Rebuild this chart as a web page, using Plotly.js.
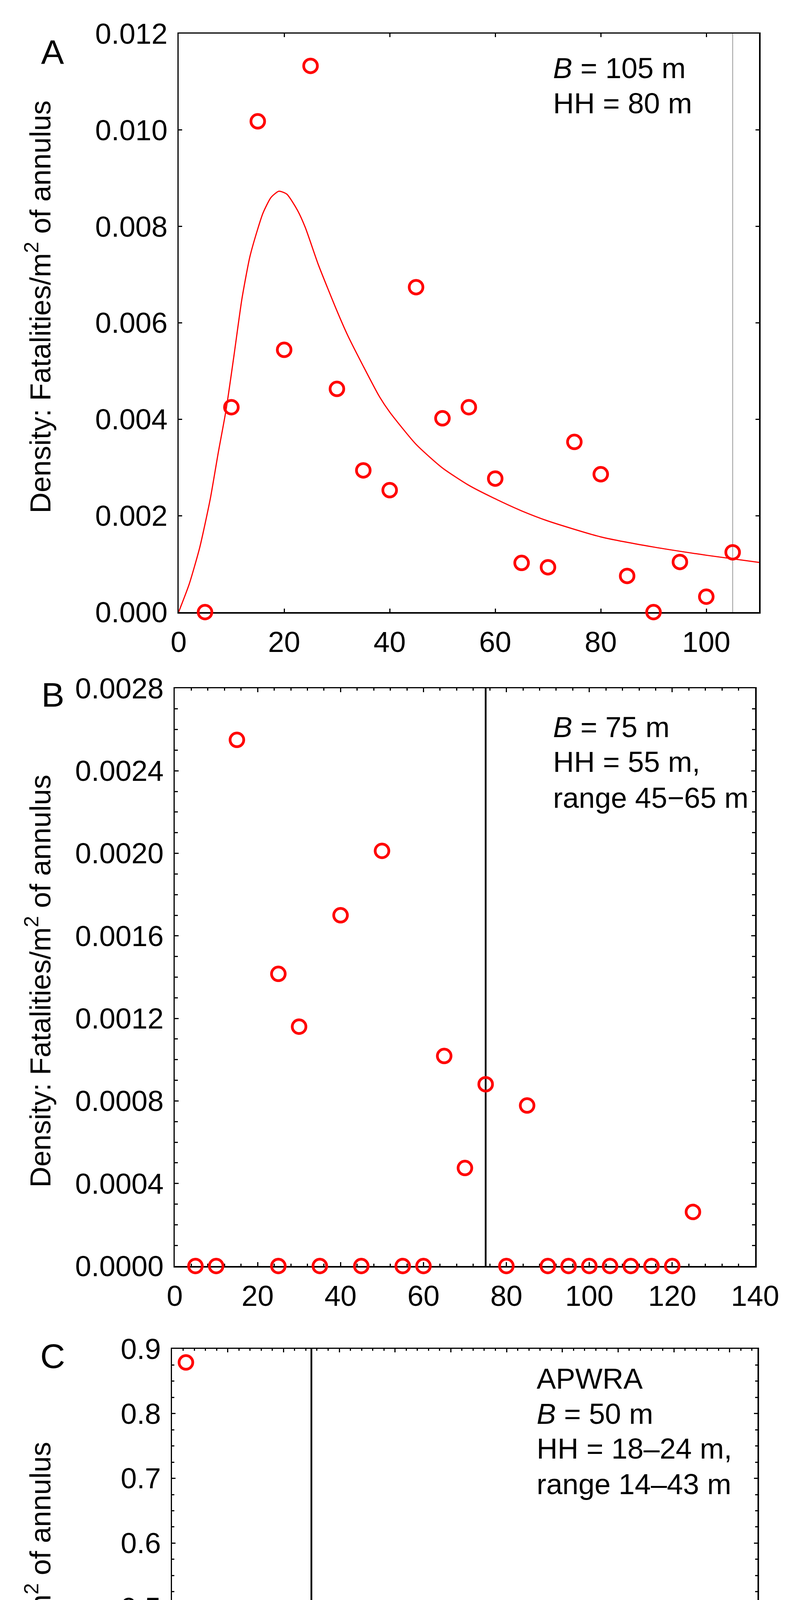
<!DOCTYPE html>
<html>
<head>
<meta charset="utf-8">
<script src="https://cdn.plot.ly/plotly-3.0.1.min.js"></script>
<style>html,body{margin:0;padding:0;background:#fff;}#chart{width:2057px;height:5204px;}</style>
</head>
<body>
<div id="chart"></div>
<script>
// ---------- DATA ----------
// Panel A
const xA = [5, 10, 15, 20, 25, 30, 35, 40, 45, 50, 55, 60, 65, 70, 75, 80, 85, 90, 95, 100, 105];
const yA = [0.0000, 0.00425, 0.01018, 0.00544, 0.01133, 0.00463, 0.00294, 0.00253, 0.00674, 0.00402, 0.00425,
            0.00277, 0.00102, 0.00093, 0.00353, 0.00286, 0.00075, 0.0000, 0.00104, 0.00032, 0.00124];
const curveX = [0, 2, 4, 6, 7.5, 9, 10.5, 12, 13.5, 15, 16, 17.5, 19, 20.5, 22.5, 24, 26.5, 30, 32, 35, 38, 40,
                45, 50, 55, 60, 65, 70, 80, 90, 100, 110];
const curveY = [0, 0.00058, 0.00134, 0.00235, 0.0033, 0.0042, 0.00533, 0.0065, 0.00737, 0.00795, 0.00828, 0.0086,
                0.00873, 0.00867, 0.00834, 0.00798, 0.0072, 0.00625, 0.00575, 0.0051, 0.00448, 0.00415,
                0.00348, 0.00299, 0.00263, 0.00235, 0.0021, 0.00189, 0.00156, 0.00135, 0.00118, 0.00103];
const lineA = 105;
const textA = ["<i>B</i> = 105 m", "HH = 80 m"];

// Panel B
const xB = [5, 10, 15, 25, 25, 30, 35, 40, 45, 50, 55, 60, 65, 70, 75, 80, 85, 90, 95, 100, 105, 110, 115, 120, 125];
const yB = [0, 0, 0.00255, 0.001416, 0, 0.00116, 0, 0.0017, 0, 0.002012, 0, 0, 0.001018, 0.000475, 0.000881,
            0, 0.000778, 0, 0, 0, 0, 0, 0, 0, 0.000262];
const lineB = 75;
const textB = ["<i>B</i> = 75 m", "HH = 55 m,", "range 45\u221265 m"];

// Panel C
const xC = [5, 10, 15, 20, 25, 30, 35, 40, 45, 50, 55, 60, 65, 70, 75, 80, 85, 90, 95, 100,
            105, 110, 115, 120, 125, 130, 135, 140, 200];
const yC = [0.879, 0.263, 0.157, 0.111, 0.0675, 0.043, 0.037, 0.0265, 0.0208, 0.0172, 0.009, 0.0068, 0.0078,
            0.0055, 0.003, 0.003, 0.0035, 0, 0.0035, 0, 0, 0, 0, 0, 0, 0, 0, 0, 0];
const lineC = 50;
const textC = ["APWRA", "<i>B</i> = 50 m", "HH = 18\u201324 m,", "range 14\u201343 m"];

const panelLetters = ["A", "B", "C"];
const yTitle = "Density: Fatalities/m<sup>2</sup> of annulus";
const xTitle = "Outer distance interval (m) of annulus";

// ---------- LAYOUT HELPERS ----------
const W = 2057, H = 5204;
const fx = p => p / W;
const fy = p => 1 - p / H;
const FONT = "Liberation Sans, Arial, Helvetica, sans-serif";
const FS = 74;

const red = "#ff0000";
const markerStyle = {symbol: "circle-open", size: 35, color: red, line: {width: 7, color: red}};

const traces = [
  {x: curveX, y: curveY, xaxis: "x", yaxis: "y", mode: "lines", line: {color: red, width: 3, shape: "spline", smoothing: 0.6}, hoverinfo: "none"},
  {x: xA, y: yA, xaxis: "x", yaxis: "y", mode: "markers", marker: markerStyle, cliponaxis: false},
  {x: xB, y: yB, xaxis: "x2", yaxis: "y2", mode: "markers", marker: markerStyle, cliponaxis: false},
  {x: xC, y: yC, xaxis: "x3", yaxis: "y3", mode: "markers", marker: markerStyle, cliponaxis: false}
];

function axis(extra) {
  return Object.assign({
    showline: true, linecolor: "black", linewidth: 3.5, mirror: "ticks",
    ticks: "inside", ticklen: 9, tickwidth: 3, tickcolor: "black",
    showgrid: false, zeroline: false, layer: "below traces",
    tickfont: {family: FONT, size: FS, color: "black"},
    ticklabelstandoff: 10, fixedrange: true
  }, extra);
}
const minorX = {dtick: 4, tick0: 0, ticks: "inside", ticklen: 5, tickwidth: 3, tickcolor: "black", showgrid: false};

const layout = {
  width: W, height: H,
  margin: {l: 0, r: 0, t: 0, b: 0, pad: 0},
  paper_bgcolor: "white", plot_bgcolor: "white",
  showlegend: false,
  font: {family: FONT, size: FS, color: "black"},
  xaxis: axis({domain: [fx(457), fx(1942)], anchor: "y", range: [0, 110], tick0: 0, dtick: 20}),
  yaxis: axis({domain: [fy(1567), fy(86)], anchor: "x", range: [0, 0.012], tick0: 0, dtick: 0.002, tickformat: ".3f"}),
  xaxis2: axis({domain: [fx(447), fx(1932)], anchor: "y2", range: [0, 140], tick0: 0, dtick: 20, ticklen: 10, minor: Object.assign({}, minorX, {ticklen: 6})}),
  yaxis2: axis({domain: [fy(3241), fy(1762)], anchor: "x2", range: [0, 0.0028], tick0: 0, dtick: 0.0004, tickformat: ".4f", ticklen: 10,
               minor: {dtick: 0.0001, tick0: 0, ticks: "inside", ticklen: 8, tickwidth: 3, tickcolor: "black", showgrid: false}}),
  xaxis3: axis({domain: [fx(440), fx(1938)], anchor: "y3", range: [0, 210], tick0: 0, dtick: 20, minor: minorX}),
  yaxis3: axis({domain: [fy(4945), fy(3453)], anchor: "x3", range: [0, 0.9], tick0: 0, dtick: 0.1, tickformat: ".1f",
               minor: {dtick: 0.025, tick0: 0, ticks: "inside", ticklen: 6, tickwidth: 3, tickcolor: "black", showgrid: false}}),
  shapes: [
    {type: "line", xref: "x", yref: "y domain", x0: lineA, x1: lineA, y0: 0, y1: 1, line: {color: "#999999", width: 2}, layer: "below"},
    {type: "line", xref: "x2", yref: "y2 domain", x0: lineB, x1: lineB, y0: 0, y1: 1, line: {color: "black", width: 4.5}, layer: "below"},
    {type: "line", xref: "x3", yref: "y3 domain", x0: lineC, x1: lineC, y0: 0, y1: 1, line: {color: "black", width: 4.5}, layer: "below"}
  ],
  annotations: []
};

function ann(text, px, py, opts) {
  layout.annotations.push(Object.assign({
    text: text, xref: "paper", yref: "paper", x: fx(px), y: fy(py),
    xanchor: "left", yanchor: "middle", showarrow: false,
    font: {family: FONT, size: FS, color: "black"}
  }, opts || {}));
}

// Panel text blocks
const textAY = [174, 265];
textA.forEach((t, i) => ann(t, 1413, textAY[i]));
const textBY = [1861, 1950, 2043];
textB.forEach((t, i) => ann(t, 1413, textBY[i]));
const textCY = [3529, 3619, 3708, 3799];
textC.forEach((t, i) => ann(t, 1371, textCY[i]));

// Panel letters
const letterPos = [[134, 134], [135, 1778], [135, 3471]];
panelLetters.forEach((t, i) => ann(t, letterPos[i][0], letterPos[i][1], {xanchor: "center", font: {family: FONT, size: 88, color: "black"}}));

// Y-axis titles
const yTitleY = [786, 2512, 4220];
yTitleY.forEach(py => ann(yTitle, 98, py, {xanchor: "center", textangle: -90}));

// X-axis title (panel C)
ann(xTitle, 1207, 5126, {xanchor: "center"});

Plotly.newPlot("chart", traces, layout, {displayModeBar: false, staticPlot: true});
</script>
</body>
</html>
